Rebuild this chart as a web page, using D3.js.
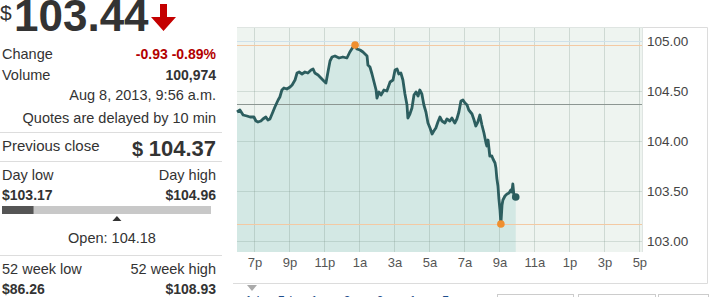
<!DOCTYPE html>
<meta charset="utf-8">
<script src="https://cdn.jsdelivr.net/npm/d3@7"></script>
<style>
  body { margin: 0; background: #fff; }
  svg text { font-family: "Liberation Sans", Arial, sans-serif; }
</style>
<body>
<div id="chart"></div>
<script>
// intraday prices, Aug 7 6pm -> Aug 8 9:56am
var times = ["18:00","18:10","18:21","18:34","18:45","18:58","19:05","19:12","19:22","19:29",
  "19:39","19:46","19:53","20:03","20:10","20:21","20:27","20:34","20:41","20:51",
  "21:02","21:09","21:19","21:26","21:33","21:43","21:53","22:03","22:14","22:21",
  "22:27","22:38","22:48","22:58","23:05","23:12","23:19","23:26","23:36","23:50",
  "00:03","00:17","00:27","00:38","00:45","00:51","01:02","01:12","01:19","01:26",
  "01:29","01:36","01:43","01:50","01:57","02:00","02:07","02:14","02:24","02:34",
  "02:45","02:55","03:02","03:09","03:15","03:22","03:29","03:36","03:43","03:46",
  "03:53","04:00","04:07","04:14","04:21","04:27","04:34","04:41","04:48","04:55",
  "05:02","05:09","05:15","05:22","05:29","05:36","05:43","05:53","06:00","06:10",
  "06:17","06:27","06:34","06:41","06:48","06:55","07:02","07:09","07:15","07:26",
  "07:33","07:39","07:46","07:53","08:00","08:07","08:14","08:17","08:21","08:27",
  "08:34","08:38","08:45","08:48","08:51","08:55","08:58","09:02","09:05","09:09",
  "09:12","09:19","09:26","09:33","09:39","09:43","09:46","09:50","09:56"];
var prices = [104.29,104.31,104.26,104.25,104.24,104.24,104.20,104.19,104.20,104.22,
  104.24,104.21,104.22,104.29,104.34,104.41,104.44,104.51,104.53,104.52,
  104.54,104.56,104.61,104.68,104.69,104.67,104.69,104.68,104.71,104.72,
  104.68,104.66,104.63,104.60,104.58,104.69,104.80,104.84,104.85,104.83,
  104.84,104.83,104.89,104.94,104.96,104.92,104.91,104.89,104.87,104.85,
  104.76,104.74,104.67,104.59,104.51,104.43,104.49,104.46,104.51,104.50,
  104.59,104.61,104.71,104.72,104.67,104.68,104.61,104.47,104.36,104.23,
  104.27,104.33,104.46,104.49,104.45,104.51,104.47,104.36,104.29,104.18,
  104.13,104.07,104.10,104.13,104.19,104.24,104.20,104.18,104.22,104.20,
  104.23,104.18,104.22,104.29,104.40,104.41,104.38,104.36,104.31,104.27,
  104.21,104.15,104.19,104.26,104.16,104.08,103.98,103.95,104.01,103.85,
  103.85,103.82,103.78,103.73,103.63,103.55,103.43,103.31,103.17,103.36,
  103.41,103.45,103.47,103.48,103.51,103.49,103.57,103.45,103.44];

var yTicks = [103.00, 103.50, 104.00, 104.50, 105.00];
var prevClose = 104.37, dayLow = 103.17, dayHigh = 104.96, openPrice = 104.18, lastPrice = 103.44;
var rangeLabels = ["1d", "5d", "1m", "3m", "6m", "1y", "5y"];

var W = 709, H = 297;
var svg = d3.select("#chart").append("svg").attr("width", W).attr("height", H);

function parseT(s) {
  var p = s.split(":"), h = +p[0], m = +p[1];
  return h >= 18 ? new Date(2013, 7, 7, h, m) : new Date(2013, 7, 8, h, m);
}
var data = times.map(function(t, i) { return {t: parseT(t), v: prices[i]}; });

// ---------- left quote panel ----------
var L = svg.append("g");
var dark = "#333", red = "#b30000";
function txt(x, y, s, size, opts) {
  opts = opts || {};
  return L.append("text").attr("x", x).attr("y", y).text(s)
    .attr("font-size", size).attr("fill", opts.fill || dark)
    .attr("font-weight", opts.bold ? "bold" : null)
    .attr("text-anchor", opts.anchor || "start");
}
txt(0, 20, "$", 21);
txt(14, 31, lastPrice.toFixed(2), 44, {bold: true});
// red down arrow
L.append("path").attr("fill", "#c40000")
  .attr("d", "M160,4 L167,4 L167,17 L176,17 L163.5,31 L151,17 L160,17 Z");

txt(2, 59, "Change", 14.5);
txt(216, 59, "-0.93 -0.89%", 14, {bold: true, fill: red, anchor: "end"});
txt(2, 80, "Volume", 14.5);
txt(216, 80, "100,974", 14, {bold: true, anchor: "end"});
txt(216, 100, "Aug 8, 2013, 9:56 a.m.", 14.5, {anchor: "end"});
txt(216, 123, "Quotes are delayed by 10 min", 14.5, {anchor: "end"});
L.append("line").attr("x1", 0).attr("x2", 222).attr("y1", 132.5).attr("y2", 132.5).attr("stroke", "#ddd");
txt(2, 151, "Previous close", 15);
var pc = txt(216, 156, "", 22, {bold: true, anchor: "end"});
pc.append("tspan").attr("font-size", 20).text("$ ");
pc.append("tspan").text(prevClose.toFixed(2));
L.append("line").attr("x1", 0).attr("x2", 222).attr("y1", 161.5).attr("y2", 161.5).attr("stroke", "#ddd");
txt(2, 180, "Day low", 14.5);
txt(216, 180, "Day high", 14.5, {anchor: "end"});
txt(2, 200, "$" + dayLow.toFixed(2), 14, {bold: true});
txt(216, 200, "$" + dayHigh.toFixed(2), 14, {bold: true, anchor: "end"});

// day range bar
var bx = d3.scaleLinear().domain([dayLow, dayHigh]).range([2, 211]);
L.append("rect").attr("x", bx(dayLow)).attr("y", 206).attr("width", bx(dayHigh) - bx(dayLow)).attr("height", 8).attr("fill", "#c8c8c8");
L.append("rect").attr("x", bx(dayLow)).attr("y", 206).attr("width", bx(lastPrice) - bx(dayLow)).attr("height", 8).attr("fill", "#555");
var ox = bx(openPrice) - 3;
L.append("path").attr("fill", "#333")
  .attr("d", "M" + (ox - 4.5) + ",221 L" + (ox + 4.5) + ",221 L" + ox + ",216 Z");
txt(112, 243, "Open: " + openPrice.toFixed(2), 14.5, {anchor: "middle"});
L.append("line").attr("x1", 0).attr("x2", 222).attr("y1", 255.5).attr("y2", 255.5).attr("stroke", "#ddd");
txt(2, 274, "52 week low", 14.5);
txt(216, 274, "52 week high", 14.5, {anchor: "end"});
txt(2, 294, "$86.26", 14, {bold: true});
txt(216, 294, "$108.93", 14, {bold: true, anchor: "end"});

// ---------- chart ----------
var plot = {left: 237, right: 642, top: 27, bottom: 252};
var x = d3.scaleTime()
  .domain([new Date(2013, 7, 7, 18, 0), new Date(2013, 7, 8, 17, 9)])
  .range([plot.left, plot.right]);
var y = d3.scaleLinear().domain([102.89, 105.14]).range([plot.bottom, plot.top]);

var C = svg.append("g");
// outer box
C.append("path").attr("fill", "none").attr("stroke", "#dcdcdc")
  .attr("d", "M237,27.5 L707.5,27.5 L707.5,283.5 L233,283.5");
C.append("rect").attr("x", plot.left).attr("y", plot.top)
  .attr("width", plot.right - plot.left).attr("height", plot.bottom - plot.top)
  .attr("fill", "#eef4f0");

var area = d3.area().x(function(d) { return x(d.t); })
  .y0(plot.bottom).y1(function(d) { return y(d.v); });
C.append("path").datum(data).attr("d", area).attr("fill", "#d3e8e4");

// grid
var xTicks = d3.timeHour.range(new Date(2013, 7, 7, 19), new Date(2013, 7, 8, 18), 2);
C.selectAll(".vg").data(xTicks).enter().append("line")
  .attr("x1", function(d) { return Math.round(x(d)) + 0.5; })
  .attr("x2", function(d) { return Math.round(x(d)) + 0.5; })
  .attr("y1", plot.top).attr("y2", plot.bottom)
  .attr("stroke", "rgba(110,135,125,0.25)");
C.selectAll(".hg").data(yTicks).enter().append("line")
  .attr("x1", plot.left).attr("x2", plot.right)
  .attr("y1", function(d) { return Math.round(y(d)) + 0.5; })
  .attr("y2", function(d) { return Math.round(y(d)) + 0.5; })
  .attr("stroke", function(d) { return d === 105 ? "#cfe1ea" : "rgba(110,135,125,0.22)"; });
C.append("line").attr("x1", plot.left).attr("x2", plot.right)
  .attr("y1", plot.top + 0.5).attr("y2", plot.top + 0.5).attr("stroke", "#dfe5e2");
C.append("line").attr("x1", plot.right + 0.5).attr("x2", plot.right + 0.5)
  .attr("y1", plot.top).attr("y2", plot.bottom).attr("stroke", "#dfe5e2");

// reference lines
[dayHigh, dayLow].forEach(function(v) {
  C.append("line").attr("x1", plot.left).attr("x2", plot.right)
    .attr("y1", Math.round(y(v)) + 0.5).attr("y2", Math.round(y(v)) + 0.5)
    .attr("stroke", "#f3c9a3");
});
C.append("line").attr("x1", plot.left).attr("x2", plot.right)
  .attr("y1", Math.round(y(prevClose)) + 0.5).attr("y2", Math.round(y(prevClose)) + 0.5)
  .attr("stroke", "#8c9692");

// price line
var line = d3.line().x(function(d) { return x(d.t); }).y(function(d) { return y(d.v); });
C.append("path").datum(data).attr("d", line).attr("fill", "none")
  .attr("stroke", "#2c5e5f").attr("stroke-width", 2.8).attr("stroke-linejoin", "round");

var hi = data.reduce(function(a, b) { return b.v > a.v ? b : a; });
var lo = data.reduce(function(a, b) { return b.v < a.v ? b : a; });
[hi, lo].forEach(function(d) {
  C.append("circle").attr("cx", x(d.t)).attr("cy", y(d.v)).attr("r", 3.8).attr("fill", "#ef8f2f");
});
var last = data[data.length - 1];
C.append("circle").attr("cx", x(last.t)).attr("cy", y(last.v)).attr("r", 3.8).attr("fill", "#2c5e5f");

// axes
var fmtH = function(d) { var h = d.getHours(); return (h % 12 || 12) + (h < 12 ? "a" : "p"); };
var xAxis = C.append("g").attr("transform", "translate(0," + plot.bottom + ")")
  .call(d3.axisBottom(x).tickValues(xTicks).tickFormat(fmtH).tickSize(0).tickPadding(6));
xAxis.select(".domain").remove();
xAxis.selectAll("text").attr("font-size", 13).attr("fill", "#555")
  .attr("font-family", "Liberation Sans, Arial, sans-serif");

var yAxis = C.append("g").attr("transform", "translate(" + plot.right + ",0)")
  .call(d3.axisRight(y).tickValues(yTicks).tickFormat(d3.format(".2f")).tickSize(0).tickPadding(5));
yAxis.select(".domain").remove();
yAxis.selectAll("text").attr("font-size", 13.5).attr("fill", "#444")
  .attr("font-family", "Liberation Sans, Arial, sans-serif");

// range selector strip (cut off at bottom)
C.append("path").attr("fill", "#aaa").attr("d", "M247,285 L257,285 L252,291 Z");
var rx = d3.scalePoint().domain(rangeLabels).range([245, 442]);
C.selectAll(".rl").data(rangeLabels).enter().append("text")
  .attr("x", function(d) { return rx(d); }).attr("y", 305)
  .attr("font-size", 13).attr("fill", "#1f4e8c").text(function(d) { return d; });
[[497, 76], [578, 77], [658, 50]].forEach(function(b) {
  C.append("rect").attr("x", b[0] + 0.5).attr("y", 294.5).attr("width", b[1]).attr("height", 20)
    .attr("fill", "#fff").attr("stroke", "#ccc");
});
</script>
</body>
</html>
